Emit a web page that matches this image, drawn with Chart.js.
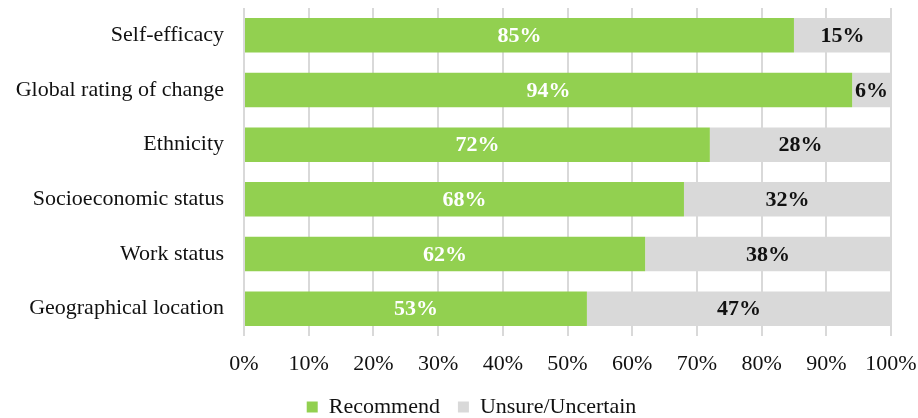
<!DOCTYPE html>
<html>
<head>
<meta charset="utf-8">
<script src="https://cdn.jsdelivr.net/npm/chart.js@4"></script>
<style>
  html, body { margin: 0; padding: 0; background: #fff; }
  #wrap { width: 918px; height: 418px; }
</style>
</head>
<body>
<div id="wrap"><canvas id="myChart" width="918" height="418"></canvas></div>
<script>
// categories, top to bottom
const categories = [
    'Self-efficacy',
    'Global rating of change',
    'Ethnicity',
    'Socioeconomic status',
    'Work status',
    'Geographical location'
];
const recommend = [85, 94, 72, 68, 62, 53];
const unsure = [15, 6, 28, 32, 38, 47];
const xTicks = [0, 10, 20, 30, 40, 50, 60, 70, 80, 90, 100];

Chart.defaults.font.family = '"Liberation Serif", "Times New Roman", serif';
Chart.defaults.font.size = 22;
Chart.defaults.color = '#111';

// draws the % value in the middle of each segment
const segmentLabels = {
    id: 'segmentLabels',
    afterDatasetsDraw(chart) {
        const ctx = chart.ctx;
        ctx.save();
        ctx.font = 'bold 22px "Liberation Serif", "Times New Roman", serif';
        ctx.textAlign = 'center';
        ctx.textBaseline = 'middle';
        chart.data.datasets.forEach((ds, i) => {
            const meta = chart.getDatasetMeta(i);
            ctx.fillStyle = ds.labelColor;
            meta.data.forEach((bar, j) => {
                const cx = (bar.x + bar.base) / 2;
                ctx.fillText(ds.data[j] + '%', cx, bar.y + 1);
            });
        });
        ctx.restore();
    }
};

// legend in the original sits a bit right of centre
const shiftLegend = {
    id: 'shiftLegend',
    afterLayout(chart) {
        chart.legend.left += 52;
    }
};

new Chart(document.getElementById('myChart').getContext('2d'), {
    type: 'bar',
    data: {
        labels: categories,
        datasets: [{
            label: 'Recommend',
            data: recommend,
            backgroundColor: '#92d050',
            labelColor: '#ffffff',
            barPercentage: 0.63,
            categoryPercentage: 1
        }, {
            label: 'Unsure/Uncertain',
            data: unsure,
            backgroundColor: '#d9d9d9',
            labelColor: '#111111',
            barPercentage: 0.63,
            categoryPercentage: 1
        }]
    },
    options: {
        indexAxis: 'y',
        responsive: false,
        animation: false,
        layout: { padding: { left: 0, right: 27, top: 8, bottom: -10 } },
        scales: {
            x: {
                stacked: true,
                min: 0,
                max: 100,
                afterBuildTicks: (scale) => { scale.ticks = xTicks.map(v => ({ value: v })); },
                afterFit: (scale) => {
                    scale.height = 42;
                    scale.paddingLeft = 0;
                    scale.paddingRight = 0;
                },
                ticks: {
                    padding: 15,
                    color: '#111',
                    maxRotation: 0,
                    callback: (v) => v + '%'
                },
                grid: { color: '#d9d9d9', lineWidth: 2, drawTicks: false },
                border: { display: false }
            },
            y: {
                stacked: true,
                afterFit: (scale) => {
                    scale.width = 244;
                    scale.paddingTop = 0;
                    scale.paddingBottom = 0;
                },
                ticks: { padding: 20, color: '#111' },
                grid: { display: false, drawTicks: false },
                border: { display: false }
            }
        },
        plugins: {
            tooltip: { enabled: false },
            legend: {
                position: 'bottom',
                labels: { boxWidth: 11, boxHeight: 11, padding: 18, color: '#111' }
            }
        }
    },
    plugins: [segmentLabels, shiftLegend]
});
</script>
</body>
</html>
